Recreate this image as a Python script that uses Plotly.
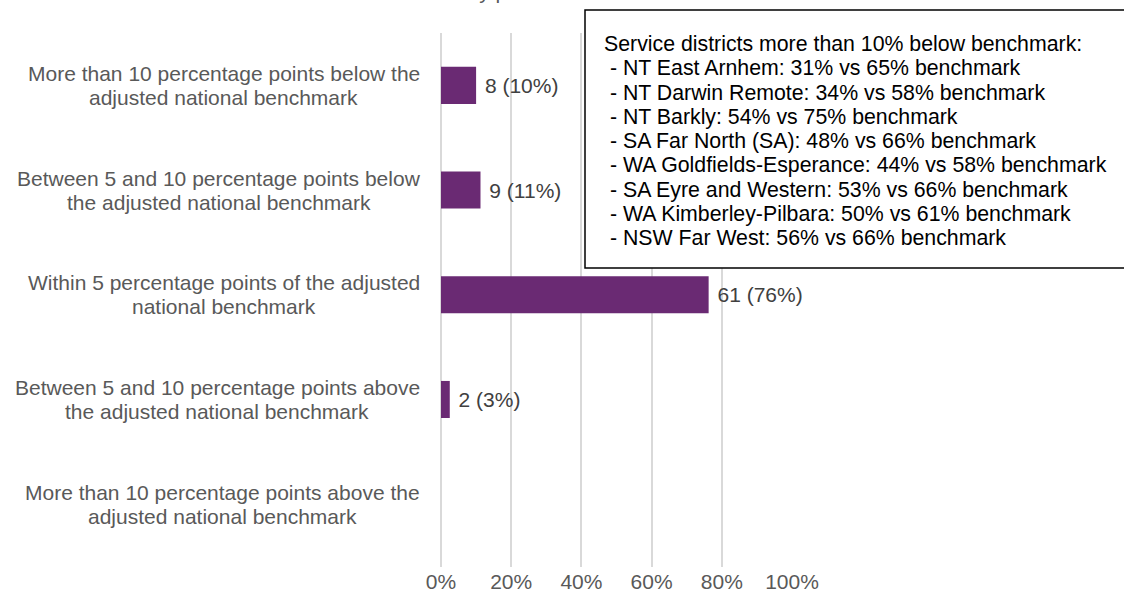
import plotly.graph_objects as go

# ---------------- data ----------------
categories = [
    "More than 10 percentage points below the adjusted national benchmark",
    "Between 5 and 10 percentage points below the adjusted national benchmark",
    "Within 5 percentage points of the adjusted national benchmark",
    "Between 5 and 10 percentage points above the adjusted national benchmark",
    "More than 10 percentage points above the adjusted national benchmark",
]
category_lines = [
    ["More than 10 percentage points below the", "adjusted national benchmark"],
    ["Between 5 and 10 percentage points below", "the adjusted national benchmark"],
    ["Within 5 percentage points of the adjusted", "national benchmark"],
    ["Between 5 and 10 percentage points above", "the adjusted national benchmark"],
    ["More than 10 percentage points above the", "adjusted national benchmark"],
]
counts = [8, 9, 61, 2, 0]
x_ticks = [0, 20, 40, 60, 80, 100]
x_tick_labels = ["0%", "20%", "40%", "60%", "80%", "100%"]

title_text = "Distribution of service districts by performance"
box_lines = [
    "Service districts more than 10% below benchmark:",
    "\u00a0- NT East Arnhem: 31% vs 65% benchmark",
    "\u00a0- NT Darwin Remote: 34% vs 58% benchmark",
    "\u00a0- NT Barkly: 54% vs 75% benchmark",
    "\u00a0- SA Far North (SA): 48% vs 66% benchmark",
    "\u00a0- WA Goldfields-Esperance: 44% vs 58% benchmark",
    "\u00a0- SA Eyre and Western: 53% vs 66% benchmark",
    "\u00a0- WA Kimberley-Pilbara: 50% vs 61% benchmark",
    "\u00a0- NSW Far West: 56% vs 66% benchmark",
]

total = sum(counts)
pcts = [c / total * 100 for c in counts]
labels = [f"\u00a0{c} ({int(p + 0.5)}%)" if c > 0 else "" for c, p in zip(counts, pcts)]

# ---------------- layout geometry ----------------
W, H = 1124, 592
L, R, T, B = 441, 792, 33, 567
FONT = "Liberation Sans, Arial, sans-serif"
GRAY = "#595959"
PURPLE = "#6A2A73"


def px2x(px):
    return (px - L) / (R - L)


def py2y(py):
    return (B - py) / (B - T)


# approximate Arial advance widths (per 1000 em) for centring wrapped labels
AW = {" ": 278, "-": 333, "%": 889, "(": 333, ")": 333, ":": 278}
for ch in "abdeghnopqu0123456789":
    AW[ch] = 556
for ch in "ckszvy":
    AW[ch] = 500
for ch in "ijl":
    AW[ch] = 222
AW.update({"f": 278, "t": 278, "r": 333, "m": 833, "w": 722, "x": 500,
           "M": 833, "B": 667, "W": 944, "T": 611})


def text_w(s, size):
    return sum(AW.get(ch, 556) for ch in s) / 1000 * size


fig = go.Figure()
fig.add_trace(go.Bar(
    y=categories,
    x=pcts,
    orientation="h",
    marker=dict(color=PURPLE, line=dict(width=0)),
    text=labels,
    textposition="outside",
    textfont=dict(family=FONT, size=21, color="#404040"),
    cliponaxis=False,
    hoverinfo="skip",
))

annotations = []
LBL_SIZE = 21
RIGHT_EDGE = 420
for cat, lines in zip(categories, category_lines):
    block_w = max(text_w(s, LBL_SIZE) for s in lines)
    cx = RIGHT_EDGE - block_w / 2
    for i, s in enumerate(lines):
        annotations.append(dict(
            x=px2x(cx), xref="paper", y=cat, yref="y",
            yshift=12 - 24 * i,
            text=s, showarrow=False, xanchor="center", yanchor="middle",
            font=dict(family=FONT, size=LBL_SIZE, color=GRAY),
        ))

# information box text
for i, s in enumerate(box_lines):
    annotations.append(dict(
        x=px2x(602), xref="paper", y=py2y(44 + 24.25 * i), yref="paper",
        text=s, showarrow=False, xanchor="left", yanchor="middle",
        font=dict(family=FONT, size=21.3, color="#000000"),
    ))

# cut-off title at the very top
annotations.append(dict(
    x=px2x(182), xref="paper", y=py2y(5), yref="paper",
    text=title_text, showarrow=False, xanchor="left", yanchor="bottom",
    font=dict(family=FONT, size=21, color=GRAY),
))

shapes = [dict(
    type="rect", xref="paper", yref="paper",
    x0=px2x(585), x1=px2x(1140), y0=py2y(268), y1=py2y(10),
    line=dict(color="#000000", width=1.5), fillcolor="#FFFFFF", layer="above",
)]

fig.update_layout(
    width=W, height=H,
    margin=dict(l=L, r=W - R, t=T, b=H - B, autoexpand=False),
    paper_bgcolor="#FFFFFF", plot_bgcolor="#FFFFFF",
    showlegend=False,
    bargap=0.646,
    font=dict(family=FONT, size=21, color=GRAY),
    xaxis=dict(
        range=[0, 100], tickvals=x_ticks, ticktext=x_tick_labels,
        showgrid=True, gridcolor="#D9D9D9", gridwidth=1.5,
        zeroline=True, zerolinecolor="#D9D9D9", zerolinewidth=1.5,
        showline=False, ticks="", ticklabelstandoff=0,
        tickfont=dict(family=FONT, size=21, color=GRAY),
        fixedrange=True,
    ),
    yaxis=dict(
        type="category", categoryorder="array", categoryarray=categories,
        range=[4.6, -0.5], showticklabels=False, showgrid=False,
        zeroline=False, showline=False, ticks="", fixedrange=True,
    ),
    annotations=annotations,
    shapes=shapes,
)

fig.write_html(
    "out.html",
    include_plotlyjs=True,
    config={"displayModeBar": False},
    post_script="document.body.style.margin='0';document.body.style.overflow='hidden';",
)
